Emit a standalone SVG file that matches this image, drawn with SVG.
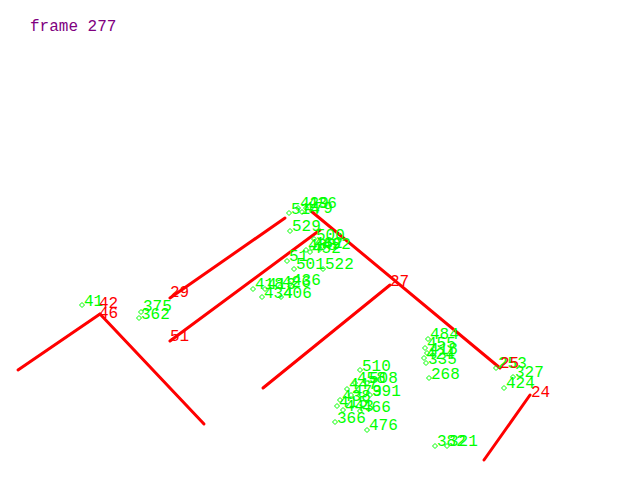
<svg xmlns="http://www.w3.org/2000/svg" xmlns:xlink="http://www.w3.org/1999/xlink" width="640" height="480" viewBox="0 0 640 480">
<style>
text{font-family:"Liberation Mono","DejaVu Sans Mono",monospace;font-size:16px}
.g{fill:#00ff00}
.r{fill:#ff0000}
.t{fill:#800080;font-size:16px}
.l{stroke:#ff0000;stroke-width:3;fill:none;stroke-linecap:round}
.dm{fill:none;stroke:#00ff00;stroke-width:1}
</style>
<defs>
<path id="d" class="dm" d="M-2.5,0 L0,-2.5 L2.5,0 L0,2.5 Z"/>
</defs>
<rect width="640" height="480" fill="#ffffff"/>
<text class="t" x="30" y="31">frame 277</text>
<g id="connectors">
<line class="l" x1="18" y1="370" x2="100" y2="314"/>
<line class="l" x1="100" y1="314" x2="204" y2="424"/>
<line class="l" x1="170" y1="298" x2="285" y2="218"/>
<line class="l" x1="170" y1="341" x2="320" y2="230"/>
<line class="l" x1="311" y1="211" x2="500" y2="368"/>
<line class="l" x1="263" y1="388" x2="390" y2="285"/>
<line class="l" x1="484" y1="460" x2="530" y2="395"/>
</g>
<g id="green-labels">
<g id="n414"><use xlink:href="#d" x="82" y="305"/><text class="g" x="84" y="306">41</text></g>
<g id="n375"><use xlink:href="#d" x="141" y="312"/><text class="g" x="143" y="311">375</text></g>
<g id="n362"><use xlink:href="#d" x="139" y="318"/><text class="g" x="141" y="319">362</text></g>
<g id="n514"><use xlink:href="#d" x="289" y="213"/><text class="g" x="291" y="214">514</text></g>
<g id="n429"><use xlink:href="#d" x="298" y="208"/><text class="g" x="300" y="208">429</text></g>
<g id="n436t"><use xlink:href="#d" x="306" y="208"/><text class="g" x="308" y="208">436</text></g>
<g id="n479"><use xlink:href="#d" x="302" y="212"/><text class="g" x="304" y="213">479</text></g>
<g id="n529"><use xlink:href="#d" x="290" y="231"/><text class="g" x="292" y="231">529</text></g>
<g id="n500"><use xlink:href="#d" x="314" y="239"/><text class="g" x="316" y="240">500</text></g>
<g id="n488"><use xlink:href="#d" x="306" y="250"/><text class="g" x="308" y="250">488</text></g>
<g id="n462"><use xlink:href="#d" x="312" y="248"/><text class="g" x="314" y="248">462</text></g>
<g id="n492"><use xlink:href="#d" x="320" y="249"/><text class="g" x="322" y="249">492</text></g>
<g id="n452"><use xlink:href="#d" x="310" y="252"/><text class="g" x="312" y="253">452</text></g>
<g id="n51"><use xlink:href="#d" x="287" y="261"/><text class="g" x="289" y="261">51</text></g>
<g id="n501"><use xlink:href="#d" x="294" y="269"/><text class="g" x="296" y="269">501</text></g>
<g id="n522"><use xlink:href="#d" x="323" y="269"/><text class="g" x="325" y="269">522</text></g>
<g id="n418a"><use xlink:href="#d" x="253" y="289"/><text class="g" x="255" y="289">418</text></g>
<g id="n413"><use xlink:href="#d" x="265" y="289"/><text class="g" x="267" y="289">413</text></g>
<g id="n426"><use xlink:href="#d" x="280" y="287"/><text class="g" x="282" y="287">426</text></g>
<g id="n436"><use xlink:href="#d" x="290" y="284"/><text class="g" x="292" y="285">436</text></g>
<g id="n434"><use xlink:href="#d" x="262" y="297"/><text class="g" x="264" y="298">434</text></g>
<g id="n406"><use xlink:href="#d" x="281" y="297"/><text class="g" x="283" y="298">406</text></g>
<g id="n510"><use xlink:href="#d" x="360" y="370"/><text class="g" x="362" y="371">510</text></g>
<g id="n458"><use xlink:href="#d" x="355" y="383"/><text class="g" x="357" y="383">458</text></g>
<g id="n508"><use xlink:href="#d" x="367" y="383"/><text class="g" x="369" y="383">508</text></g>
<g id="n447"><use xlink:href="#d" x="347" y="389"/><text class="g" x="349" y="389">447</text></g>
<g id="n4791"><use xlink:href="#d" x="351" y="395"/><text class="g" x="353" y="396">479</text></g>
<g id="n391"><use xlink:href="#d" x="370" y="395"/><text class="g" x="372" y="396">391</text></g>
<g id="n438"><use xlink:href="#d" x="340" y="400"/><text class="g" x="342" y="401">438</text></g>
<g id="n415"><use xlink:href="#d" x="337" y="406"/><text class="g" x="339" y="407">415</text></g>
<g id="n443"><use xlink:href="#d" x="343" y="410"/><text class="g" x="345" y="411">443</text></g>
<g id="n466"><use xlink:href="#d" x="360" y="411"/><text class="g" x="362" y="412">466</text></g>
<g id="n366"><use xlink:href="#d" x="335" y="422"/><text class="g" x="337" y="423">366</text></g>
<g id="n476"><use xlink:href="#d" x="367" y="430"/><text class="g" x="369" y="430">476</text></g>
<g id="n484"><use xlink:href="#d" x="428" y="339"/><text class="g" x="430" y="339">484</text></g>
<g id="n455"><use xlink:href="#d" x="425" y="348"/><text class="g" x="427" y="348">455</text></g>
<g id="n418"><use xlink:href="#d" x="427" y="353"/><text class="g" x="429" y="354">418</text></g>
<g id="n424b"><use xlink:href="#d" x="424" y="358"/><text class="g" x="426" y="359">424</text></g>
<g id="n335"><use xlink:href="#d" x="426" y="363"/><text class="g" x="428" y="364">335</text></g>
<g id="n268"><use xlink:href="#d" x="429" y="378"/><text class="g" x="431" y="379">268</text></g>
<g id="n253"><use xlink:href="#d" x="496" y="368"/><text class="g" x="498" y="368">253</text></g>
<g id="n327"><use xlink:href="#d" x="513" y="377"/><text class="g" x="515" y="377">327</text></g>
<g id="n424"><use xlink:href="#d" x="504" y="388"/><text class="g" x="506" y="388">424</text></g>
<g id="n382"><use xlink:href="#d" x="435" y="446"/><text class="g" x="437" y="446">382</text></g>
<g id="n321"><use xlink:href="#d" x="447" y="446"/><text class="g" x="449" y="446">321</text></g>
</g>
<g id="red-labels">
<text class="r" x="99" y="308">42</text>
<text class="r" x="99" y="318">46</text>
<text class="r" x="170" y="297">29</text>
<text class="r" x="170" y="341">51</text>
<text class="r" x="390" y="286">27</text>
<text class="r" x="500" y="368">25</text>
<text class="r" x="531" y="397">24</text>
</g>
</svg>
